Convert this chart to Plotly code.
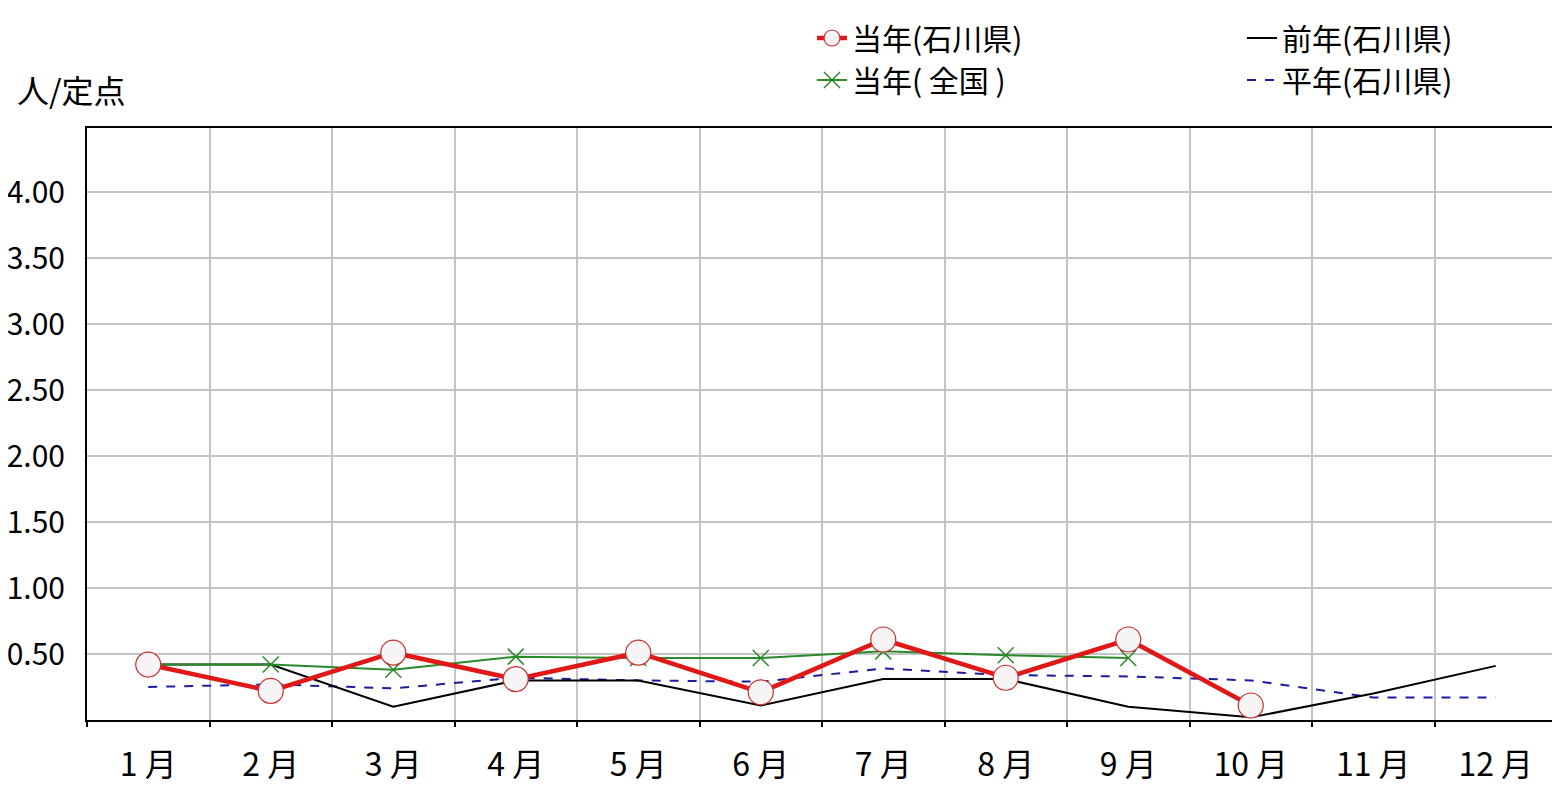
import plotly.graph_objects as go

months = ["1 月", "2 月", "3 月", "4 月", "5 月", "6 月", "7 月", "8 月", "9 月", "10 月", "11 月", "12 月"]
current_ishikawa = [0.42, 0.22, 0.51, 0.31, 0.51, 0.21, 0.61, 0.32, 0.61, 0.11, None, None]
current_national = [0.42, 0.42, 0.38, 0.48, 0.47, 0.47, 0.52, 0.49, 0.47, None, None, None]
previous_ishikawa = [0.42, 0.42, 0.10, 0.30, 0.30, 0.11, 0.31, 0.31, 0.10, 0.02, 0.20, 0.41]
normal_ishikawa = [0.25, 0.27, 0.24, 0.32, 0.30, 0.29, 0.39, 0.34, 0.33, 0.30, 0.17, 0.17]
y_ticks = [0.5, 1.0, 1.5, 2.0, 2.5, 3.0, 3.5, 4.0]
y_tick_text = ["%.2f" % v for v in y_ticks]

FONT = "Noto Sans CJK JP"

fig = go.Figure()
fig.add_trace(go.Scatter(
    x=months, y=normal_ishikawa, mode="lines", name="平年(石川県)",
    line=dict(color="#1c1ca0", width=2, dash="dash"),
    legend="legend2", legendrank=2))
fig.add_trace(go.Scatter(
    x=months, y=previous_ishikawa, mode="lines", name="前年(石川県)",
    line=dict(color="#000000", width=2),
    legend="legend2", legendrank=1))
fig.add_trace(go.Scatter(
    x=months, y=current_national, mode="lines+markers", name="当年( 全国 )",
    line=dict(color="#2a8a2a", width=2),
    marker=dict(symbol="x-thin", size=16, line=dict(color="#2a8a2a", width=1.5)),
    legend="legend", legendrank=2))
fig.add_trace(go.Scatter(
    x=months, y=current_ishikawa, mode="lines+markers", name="当年(石川県)",
    line=dict(color="#e01818", width=4.5),
    marker=dict(symbol="circle", size=25, color="#f6f4f4",
                line=dict(color="#c83030", width=1.2)),
    legend="legend", legendrank=1))

fig.update_layout(
    width=1552, height=800,
    margin=dict(l=79, r=3, t=120, b=88, autoexpand=False),
    paper_bgcolor="white", plot_bgcolor="white",
    font=dict(family=FONT, size=30, color="#000000"),
    showlegend=True,
    legend=dict(x=(812 - 87) / 1470, y=(720 - 12) / 592, xanchor="left", yanchor="top",
                orientation="v", font=dict(family=FONT, size=30), bgcolor="rgba(0,0,0,0)",
                traceorder="normal", tracegroupgap=0),
    legend2=dict(x=(1242 - 87) / 1470, y=(720 - 12) / 592, xanchor="left", yanchor="top",
                 orientation="v", font=dict(family=FONT, size=30), bgcolor="rgba(0,0,0,0)",
                 traceorder="normal", tracegroupgap=0),
    xaxis=dict(
        type="category", range=[-0.5, 11.5], tickson="boundaries",
        showgrid=True, gridcolor="#c4c4c4", gridwidth=1.5,
        ticks="outside", ticklen=5, tickcolor="#000000", tickwidth=2,
        showline=True, linecolor="#000000", linewidth=2, mirror=True,
        tickfont=dict(family=FONT, size=32), ticklabelstandoff=16,
        automargin=False, zeroline=False,
    ),
    yaxis=dict(
        range=[0, 4.485], tickmode="array", tickvals=y_ticks, ticktext=y_tick_text,
        showgrid=True, gridcolor="#c4c4c4", gridwidth=1.5,
        ticks="", showline=True, linecolor="#000000", linewidth=2, mirror=True,
        tickfont=dict(family=FONT, size=30), ticklabelstandoff=14,
        automargin=False, zeroline=False,
    ),
    annotations=[dict(
        text="人/定点", xref="paper", yref="paper",
        x=(15 - 87) / 1470, y=(720 - 89) / 592, xanchor="left", yanchor="middle",
        showarrow=False, font=dict(family=FONT, size=32))],
)

fig.write_html("out.html")
